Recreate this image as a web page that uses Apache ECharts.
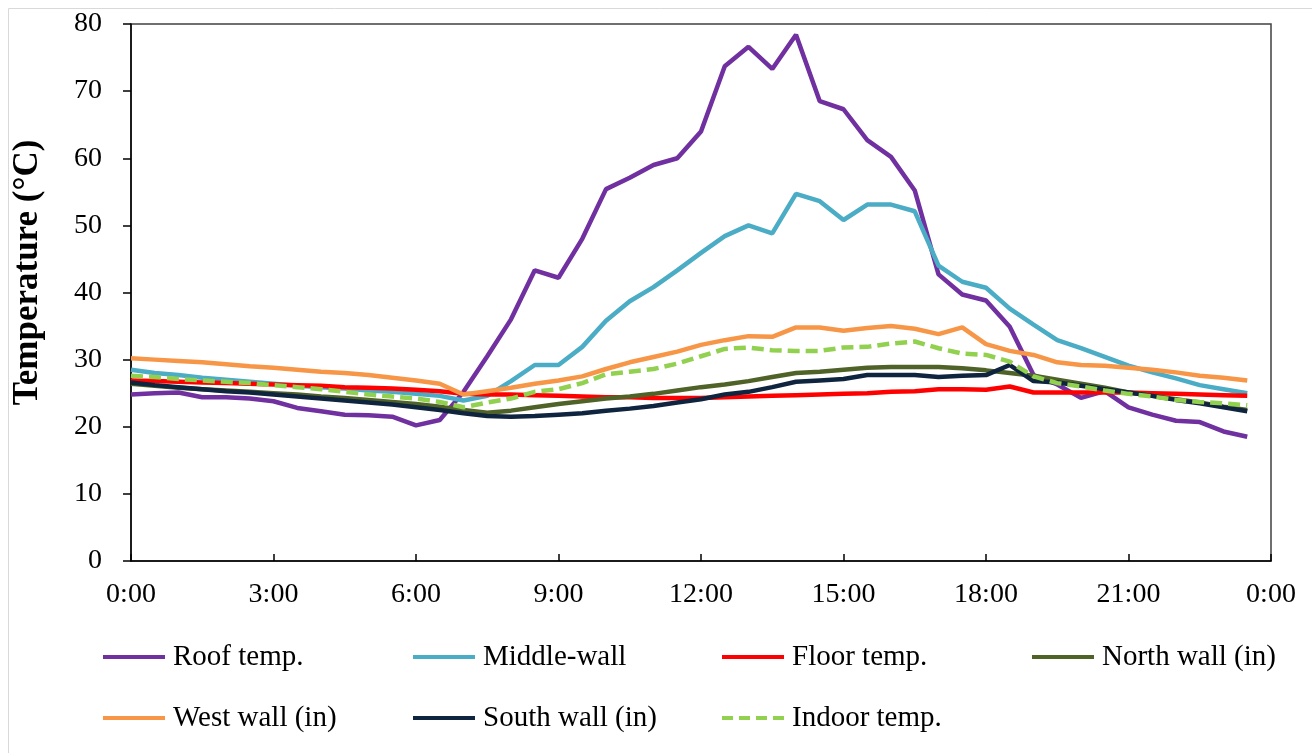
<!DOCTYPE html>
<html>
<head>
<meta charset="utf-8">
<script src="https://cdn.jsdelivr.net/npm/echarts@6/dist/echarts.min.js"></script>
<style>
html,body{margin:0;padding:0;background:#fff;}
#chart{width:1312px;height:753px;}
</style>
</head>
<body>
<div id="chart"></div>
<script>
// Time categories (every 30 min), last one closes the day
const times = ['0:00','0:30','1:00','1:30','2:00','2:30','3:00','3:30','4:00','4:30','5:00','5:30',
  '6:00','6:30','7:00','7:30','8:00','8:30','9:00','9:30','10:00','10:30','11:00','11:30',
  '12:00','12:30','13:00','13:30','14:00','14:30','15:00','15:30','16:00','16:30','17:00','17:30',
  '18:00','18:30','19:00','19:30','20:00','20:30','21:00','21:30','22:00','22:30','23:00','23:30','24:00'];

const roofTemp = [24.8,25.0,25.1,24.4,24.4,24.2,23.8,22.8,22.3,21.8,21.7,21.5,
  20.2,21.0,25.2,30.5,36.0,43.3,42.2,48.0,55.4,57.1,59.0,60.0,
  64.0,73.7,76.6,73.3,78.4,68.5,67.3,62.7,60.2,55.2,42.7,39.7,
  38.8,34.9,27.7,26.3,24.3,25.3,22.9,21.8,20.9,20.7,19.3,18.5];

const middleWall = [28.5,28.0,27.7,27.3,27.0,26.7,26.4,26.1,25.9,25.7,25.4,25.2,
  24.9,24.6,23.9,24.6,26.8,29.2,29.2,31.9,35.8,38.7,40.8,43.3,
  45.9,48.4,50.0,48.8,54.7,53.6,50.8,53.1,53.1,52.1,44.0,41.6,
  40.7,37.6,35.2,32.9,31.7,30.4,29.1,28.1,27.2,26.2,25.6,25.0];

const floorTemp = [26.9,26.8,26.7,26.6,26.5,26.4,26.3,26.2,26.1,25.9,25.8,25.7,
  25.5,25.3,24.9,24.8,24.8,24.7,24.6,24.5,24.4,24.4,24.3,24.3,
  24.3,24.4,24.5,24.6,24.7,24.8,24.9,25.0,25.2,25.3,25.6,25.6,
  25.5,26.0,25.1,25.1,25.1,25.1,25.1,25.0,24.9,24.8,24.7,24.6];

const northWall = [26.4,26.1,25.8,25.6,25.4,25.2,25.0,24.8,24.5,24.3,24.0,23.7,
  23.4,23.0,22.5,22.1,22.4,22.9,23.4,23.8,24.2,24.5,24.9,25.4,
  25.9,26.3,26.8,27.4,28.0,28.2,28.5,28.8,28.9,28.9,28.9,28.7,
  28.4,28.0,27.6,27.0,26.4,25.8,25.1,24.6,24.1,23.6,23.0,22.5];

const westWall = [30.2,30.0,29.8,29.6,29.3,29.0,28.8,28.5,28.2,28.0,27.7,27.3,
  26.9,26.4,24.8,25.3,25.8,26.4,26.9,27.5,28.6,29.6,30.4,31.2,
  32.2,32.9,33.5,33.4,34.8,34.8,34.3,34.7,35.0,34.6,33.8,34.8,
  32.3,31.3,30.7,29.6,29.2,29.1,28.8,28.5,28.1,27.6,27.3,26.9];

const southWall = [26.6,26.2,25.9,25.6,25.3,25.1,24.8,24.5,24.2,23.9,23.6,23.3,
  22.9,22.5,22.0,21.6,21.5,21.6,21.8,22.0,22.4,22.7,23.1,23.6,
  24.1,24.8,25.2,25.9,26.7,26.9,27.1,27.7,27.7,27.7,27.4,27.6,
  27.7,29.2,26.8,26.6,26.1,25.6,25.1,24.6,24.0,23.5,22.9,22.3];

const indoorTemp = [27.6,27.4,27.1,26.9,26.7,26.5,26.2,25.9,25.6,25.2,24.8,24.5,
  24.2,23.7,22.9,23.6,24.2,25.2,25.6,26.5,27.8,28.2,28.6,29.4,
  30.5,31.6,31.8,31.4,31.3,31.3,31.8,31.9,32.4,32.7,31.7,30.9,
  30.7,29.7,27.5,26.5,26.0,25.4,24.9,24.5,24.0,23.7,23.5,23.2];

const seriesNames = ['Roof temp.','Middle-wall','Floor temp.','North wall (in)','West wall (in)','South wall (in)','Indoor temp.'];
const seriesData = [roofTemp, middleWall, floorTemp, northWall, westWall, southWall, indoorTemp];
const seriesColors = ['#7030A0','#4BACC6','#FF0000','#4F6228','#F79646','#0F243E','#92D050'];
const yTicks = [0,10,20,30,40,50,60,70,80];

const FONT = '"Liberation Serif", "Times New Roman", serif';

const legendPos = [
  {left:103, top:641},{left:413, top:641},{left:722, top:641},{left:1032, top:641},
  {left:103, top:702},{left:413, top:702},{left:722, top:702}
];
const solidIcon = 'path://M0,0h62v4h-62z';
const dashIcon = 'path://M0,0h11v4h-11z M17,0h11v4h-11z M34,0h11v4h-11z M51,0h11v4h-11z';

const chart = echarts.init(document.getElementById('chart'));
const option = {
  animation: false,
  backgroundColor: '#fff',
  graphic: [{
    type: 'rect', z: -10, silent: true,
    shape: {x: 8.5, y: 8.5, width: 1320, height: 760},
    style: {fill: 'none', stroke: '#d9d9d9', lineWidth: 1}
  }],
  grid: {left: 131, right: 41, top: 24, bottom: 192, show: true, borderColor: '#404040', borderWidth: 1.5, containLabel: false},
  legend: seriesNames.map((n, i) => ({
    data: [n], left: legendPos[i].left, top: legendPos[i].top, padding: 0,
    icon: i === 6 ? dashIcon : solidIcon,
    itemWidth: 62, itemHeight: 4, selectedMode: false,
    itemStyle: {borderWidth: 0},
    textStyle: {fontFamily: FONT, fontSize: 29, color: '#000', lineHeight: 32, padding: [0,0,0,3]}
  })),
  xAxis: {
    type: 'category', data: times, boundaryGap: false,
    axisLine: {lineStyle: {color: '#000', width: 1.5}},
    axisTick: {inside: true, interval: 5, length: 7, lineStyle: {color: '#000', width: 1.5}},
    axisLabel: {interval: 5, margin: 20, fontFamily: FONT, fontSize: 28, color: '#000',
      formatter: v => v === '24:00' ? '0:00' : v},
    splitLine: {show: false}
  },
  yAxis: {
    type: 'value', min: yTicks[0], max: yTicks[yTicks.length-1], interval: 10,
    name: 'Temperature (°C)', nameLocation: 'middle', nameGap: 86, nameRotate: 90,
    nameTextStyle: {fontFamily: FONT, fontSize: 35, fontWeight: 'bold', color: '#000', padding: [0,0,0,40]},
    axisLine: {show: true, lineStyle: {color: '#000', width: 1.5}},
    axisTick: {show: true, inside: false, length: 8, lineStyle: {color: '#000', width: 1.5}},
    axisLabel: {margin: 29, fontFamily: FONT, fontSize: 28, color: '#000'},
    splitLine: {show: false}
  },
  series: seriesNames.map((n, i) => ({
    name: n, type: 'line', data: seriesData[i], symbol: 'none', smooth: false,
    color: seriesColors[i],
    lineStyle: {color: seriesColors[i], width: 4.5, type: i === 6 ? [12, 6] : 'solid', cap: 'butt'}
  }))
};
chart.setOption(option);
</script>
</body>
</html>
